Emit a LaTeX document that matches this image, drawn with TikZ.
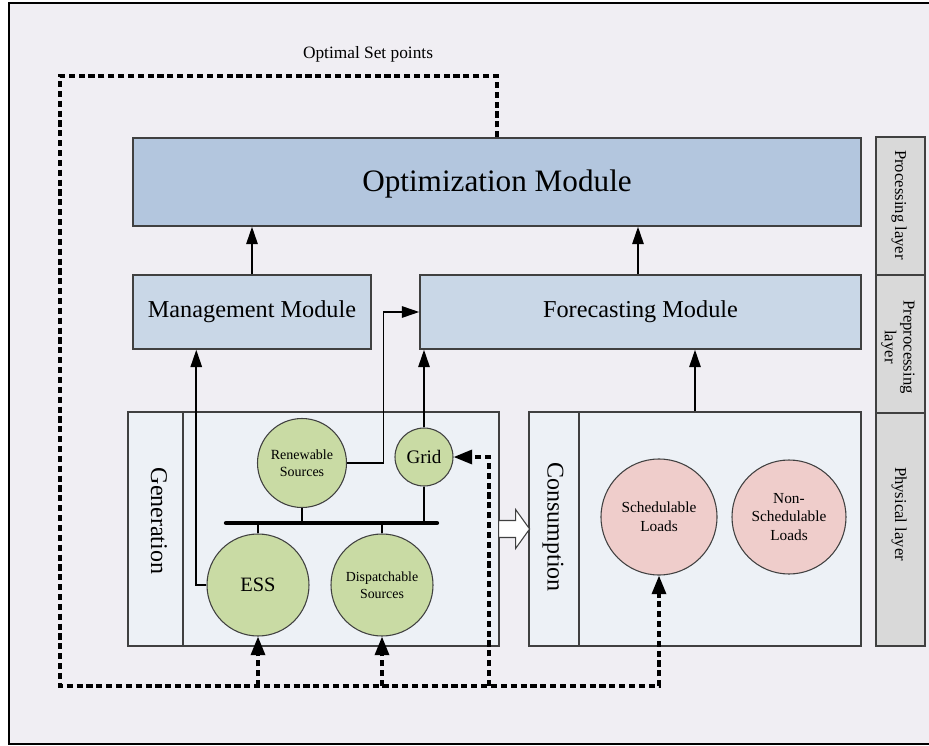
\documentclass[tikz,border=0pt]{standalone}
\usepackage{fontspec}
\setmainfont{Liberation Serif}
\usetikzlibrary{arrows.meta,calc}
\definecolor{bgc}{HTML}{F0EEF3}
\definecolor{optc}{HTML}{B3C6DE}
\definecolor{modc}{HTML}{C9D7E7}
\definecolor{boxc}{HTML}{EDF1F6}
\definecolor{greenc}{HTML}{C9DBA4}
\definecolor{pinkc}{HTML}{EFCDCB}
\definecolor{layc}{HTML}{D9D9D9}
\definecolor{edgec}{HTML}{404040}
\tikzset{
  modbox/.style={draw=edgec, line width=1.1pt, rectangle, inner sep=0pt},
  areabox/.style={draw=edgec, line width=0.9pt, rectangle, fill=boxc, inner sep=0pt},
  laybox/.style={draw=edgec, line width=1.1pt, rectangle, fill=layc, inner sep=0pt, minimum width=36.75pt},
  gcirc/.style={circle, draw=edgec, line width=0.8pt, fill=greenc, inner sep=0pt, align=center},
  pcirc/.style={circle, draw=edgec, line width=0.8pt, fill=pinkc, inner sep=0pt, align=center},
  arr/.style={line width=1.3pt, -{Triangle[length=13pt,width=8.5pt]}},
  thinl/.style={line width=0.8pt},
  dsh/.style={line width=2.6pt, dash pattern=on 4.6pt off 2.8pt},
  dtip/.style={-{Triangle[length=14pt,width=10.5pt]}},
  rotlab/.style={rotate=-90, align=center}
}
\begin{document}
\begin{tikzpicture}[x=0.75pt,y=-0.75pt]
\useasboundingbox (0,0) rectangle (929,746);
\fill[white] (0,0) rectangle (929,746);
\draw[fill=bgc, line width=1.6pt] (9,3) rectangle (945,744);

% modules
\node[modbox, fill=optc, minimum width=546pt, minimum height=66pt] (opt) at (497,182) {};
\node[font=\fontsize{23.4}{28}\selectfont] (optt) at (497,184) {Optimization Module};
\node[modbox, fill=modc, minimum width=178.5pt, minimum height=55.5pt, font=\fontsize{18.2}{22}\selectfont] (mgmt) at (252,312) {Management Module};
\node[modbox, fill=modc, minimum width=330.75pt, minimum height=55.5pt, font=\fontsize{18.2}{22}\selectfont] (fore) at (640.5,312) {Forecasting Module};

% areas
\node[areabox, minimum width=278.25pt, minimum height=175.5pt] (gen) at (313.5,529) {};
\node[areabox, minimum width=249pt, minimum height=175.5pt] (cons) at (695,529) {};
\draw[thinl, draw=edgec] (183,412) -- (183,646);
\draw[thinl, draw=edgec] (579,412) -- (579,646);
\node[rotlab, font=\fontsize{18}{22}\selectfont] (genl) at (159,521) {Generation};
\node[rotlab, font=\fontsize{18}{22}\selectfont] (consl) at (553,527) {Consumption};

% layers
\node[laybox, minimum height=103.5pt] (lay1) at (900.5,206) {};
\node[laybox, minimum height=103.5pt] (lay2) at (900.5,344) {};
\node[laybox, minimum height=174.75pt] (lay3) at (900.5,529.5) {};
\node[rotlab, font=\fontsize{12.5}{13}\selectfont] (lay1t) at (899,205) {Processing layer};
\node[rotlab, font=\fontsize{12.5}{14}\selectfont] (lay2t) at (898,347) {Preprocessing\\layer};
\node[rotlab, font=\fontsize{12.5}{13}\selectfont] (lay3t) at (899,514) {Physical layer};

% bus
\coordinate (busl) at (226,523);
\coordinate (busr) at (437,523);
\draw[line width=3.2pt, line cap=round] (busl) -- (busr);

% circles
\node[gcirc, minimum size=66.75pt, font=\fontsize{10.5}{12.75}\selectfont] (ren) at (302,463) {Renewable\\Sources};
\node[gcirc, minimum size=43.5pt, font=\fontsize{14.3}{16}\selectfont] (grid) at (424,457) {Grid};
\node[gcirc, minimum size=76.5pt, font=\fontsize{15.3}{18}\selectfont] (ess) at (258,585) {ESS};
\node[gcirc, minimum size=76.5pt, font=\fontsize{10.4}{12.75}\selectfont] (disp) at (382,585) {Dispatchable\\Sources};
\node[pcirc, minimum size=87pt, font=\fontsize{11.5}{14}\selectfont] (sched) at (659,517) {Schedulable\\Loads};
\node[pcirc, minimum size=85.5pt, font=\fontsize{11.5}{14}\selectfont] (nsched) at (789,517) {Non-\\Schedulable\\Loads};

\draw[thinl] (ren.south) -- (ren.south |- busl);
\draw[thinl] (grid.south) -- (grid.south |- busl);
\draw[thinl] (ess.north) -- (ess.north |- busl);
\draw[thinl] (disp.north) -- (disp.north |- busl);

% solid arrows
\draw[arr] (mgmt.north) -- (mgmt.north |- opt.south);
\draw[arr] ($(fore.north)+(-2.5,0)$) -- ($(fore.north |- opt.south)+(-2.5,0)$);
\draw[arr] (ess.west) -| ($(mgmt.south west)+(64,0)$);
\draw[arr] (ren.east) -- ++(36.5,0) |- (fore.west);
\draw[arr] (grid.north) -- (grid.north |- fore.south);
\draw[arr] (cons.north) -- (cons.north |- fore.south);

% hollow arrow
\draw[draw=edgec, line width=0.8pt, fill=white]
  ($(gen.east)+(-1,-8.5)$) -- ++(17,0) -- ++(0,-11) -- ++(14,19.5) -- ++(-14,19.5) -- ++(0,-11) -- ++(-17,0) -- cycle;

% dashed feedback
\node[font=\fontsize{13}{15}\selectfont] (osp) at (368,54) {Optimal Set points};
\coordinate (tl) at (60,76);
\coordinate (bl) at (60,686);
\coordinate (gridup) at (489,686);
\draw[dsh, dtip] (opt.north) |- (tl) -- (bl) -| (sched.south);
\draw[dsh, dtip] (ess.south |- bl) -- (ess.south);
\draw[dsh, dtip] (disp.south |- bl) -- (disp.south);
\draw[dsh, dtip] (gridup) |- (grid.east);
\end{tikzpicture}
\end{document}
